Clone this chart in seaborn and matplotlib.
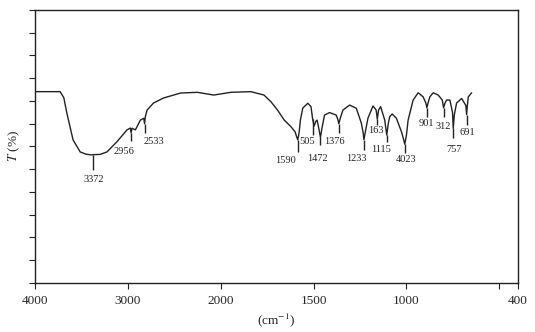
import matplotlib
matplotlib.use("Agg")
import matplotlib.pyplot as plt
import seaborn as sns
import numpy as np

sns.set_theme(style="ticks")
plt.rcParams["font.family"] = ["Liberation Serif", "DejaVu Serif"]
plt.rcParams["mathtext.fontset"] = "stix"

# spectrum: wavenumber (cm-1) and transmittance
wavenumber = [4000, 3730, 3690, 3657, 3590, 3513, 3450, 3390, 3376, 3300, 3225, 3117, 3009,
              2973, 2965, 2955, 2919, 2865, 2829, 2820, 2812, 2793, 2724, 2616, 2432,
              2252, 2075, 1946, 1838, 1767, 1730, 1694, 1658, 1622, 1600, 1590, 1585,
              1578, 1571, 1558, 1531, 1514, 1505, 1497, 1488, 1481, 1472, 1463, 1455,
              1441, 1414, 1378, 1370, 1364, 1356, 1342, 1306, 1270, 1243, 1233, 1229,
              1220, 1207, 1180, 1163, 1157, 1150, 1139, 1117, 1106, 1098, 1090, 1077,
              1054, 1027, 1015, 1009, 1000, 991, 964, 937, 910, 895, 890, 884, 874,
              856, 829, 807, 800, 793, 784, 766, 752, 748, 742, 730, 703, 680, 676,
              672, 667, 649]
transmit = [84.1, 84.1, 81.5, 74.7, 62.9, 57.6, 56.6, 56.3, 56.4, 56.5, 57.6, 62.1, 67.3,
            68.1, 66.0, 68.0, 67.3, 71.6, 72.4, 70.0, 73.0, 76.0, 79.1, 81.3, 83.5,
            83.8, 82.6, 83.8, 84.1, 82.6, 79.7, 76.0, 71.6, 68.7, 66.5, 64.0, 62.9,
            66.0, 71.6, 76.9, 79.0, 77.5, 72.0, 69.0, 71.0, 71.6, 68.0, 64.0, 68.0,
            73.8, 74.9, 73.8, 72.0, 70.0, 72.5, 76.0, 78.2, 76.8, 70.3, 66.0, 63.0,
            67.0, 72.5, 77.8, 76.0, 72.0, 76.0, 77.5, 71.6, 65.0, 70.0, 73.1, 74.3,
            72.4, 66.5, 63.0, 61.0, 65.0, 71.6, 80.4, 83.6, 81.8, 79.0, 77.0, 79.0,
            81.8, 83.6, 82.6, 80.4, 77.0, 79.0, 80.4, 80.4, 75.0, 68.0, 74.0, 79.1,
            81.1, 78.0, 74.0, 78.0, 81.8, 83.6]

# marked peaks: position on the curve, bottom of the marker line
peak_pos = [3376, 2965, 2820, 1585, 1505, 1463, 1364, 1229, 1157, 1106, 1009, 890, 800, 748, 676]
peak_top = [56.4, 66.0, 70.0, 62.9, 72.0, 64.0, 70.0, 63.0, 72.0, 65.0, 61.0, 77.0, 77.0, 68.0, 74.0]
peak_bottom = [49.5, 62.5, 65.8, 57.7, 65.1, 60.7, 65.8, 58.5, 69.5, 62.1, 57.0, 73.1, 73.1, 63.6, 69.5]

# peak labels as printed, with where they sit
peak_text = ["3372", "2956", "2533", "1590", "505", "1472", "1376", "1233", "163",
             "1115", "4023", "901", "312", "757", "691"]
text_x = [3370, 3038, 2721, 1649, 1535, 1477, 1389, 1270, 1162, 1135, 1000, 892, 801, 742, 670]
text_y = [45.6, 57.7, 62.1, 53.8, 62.1, 54.5, 62.1, 54.5, 66.9, 58.5, 54.1, 69.9, 69.0, 58.8, 66.1]

x_ticks = [4000, 3000, 2000, 1500, 1000, 500, 400]
x_tick_labels = ["4000", "3000", "2000", "1500", "1000", "", "400"]


def fwd(w):
    w = np.asarray(w, dtype=float)
    return np.where(w <= 2000, w / 500.0, 4 + (w - 2000) / 1000.0)


def inv(u):
    u = np.asarray(u, dtype=float)
    return np.where(u <= 4, u * 500.0, 2000 + (u - 4) * 1000.0)


fig = plt.figure(figsize=(5.35, 3.32), dpi=100)
ax = fig.add_axes([0.0654, 0.1476, 0.9026, 0.8224])
ax.set_xscale("function", functions=(fwd, inv))

sns.lineplot(x=wavenumber, y=transmit, ax=ax, color="#222222", linewidth=1.0,
             estimator=None, sort=False)
ax.vlines(peak_pos, peak_bottom, peak_top, color="#222222", linewidth=1.0)
for t, px, py in zip(peak_text, text_x, text_y):
    ax.text(px, py, t, ha="center", va="center", fontsize=7.5, color="#222222")

ax.set_xlim(4000, 400)
ax.set_ylim(0, 120)
ax.set_xticks(x_ticks)
ax.set_xticklabels(x_tick_labels, fontsize=9.5)
ax.set_yticks(np.arange(0, 121, 10))
ax.set_yticklabels([])
ax.tick_params(axis="both", direction="out", length=4, width=0.8, color="#222222")
ax.tick_params(axis="x", pad=5)
for s in ax.spines.values():
    s.set_color("#222222")
    s.set_linewidth(1.0)

ax.set_xlabel("(cm$^{-1}$)", fontsize=9.5, labelpad=3)
ax.set_ylabel("$T$ (%)", fontsize=9.5, labelpad=2)

fig.savefig("out.png", dpi=100)
plt.close(fig)
